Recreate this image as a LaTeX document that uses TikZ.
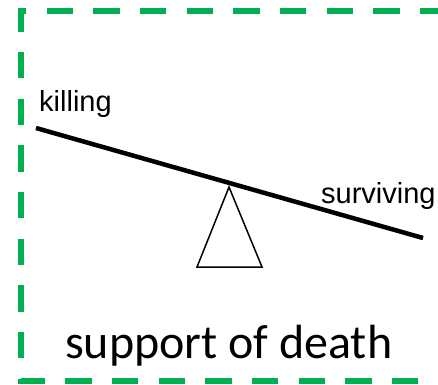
\documentclass[tikz,border=0pt]{standalone}
\usepackage{fontspec}
\setmainfont{Liberation Sans}
\newfontfamily\calibrifont{Carlito}
\definecolor{pptgreen}{HTML}{00B050}
\begin{document}
\begin{tikzpicture}[x=1pt,y=-1pt,
  frame/.style={draw=pptgreen,line width=6pt,dash pattern=on 26.3pt off 20.37pt,dash phase=32.97pt,line join=miter},
  beam/.style={line width=4.5pt,line cap=butt},
  fulcrum/.style={draw=black,line width=1.5pt,fill=white,line join=miter},
  lbl/.style={inner sep=0pt,anchor=base west,font=\fontsize{29}{33}\selectfont},
  title/.style={inner sep=0pt,anchor=base west,font=\calibrifont\fontsize{48}{54}\selectfont}]
\clip (0,0) rectangle (438,384);
\fill[white] (0,0) rectangle (438,384);
% green dashed frame (right side lies outside the picture)
\draw[frame] (460,11) -- (20.5,11) -- (20.5,380.5) -- (460,380.5);
% fulcrum
\coordinate (apex) at (229,187);
\coordinate (bl) at (197,267);
\coordinate (br) at (262,267);
\draw[fulcrum] (apex) -- (br) -- (bl) -- cycle;
% beam
\coordinate (bL) at (36,128);
\coordinate (bR) at (423,238);
\draw[beam] (bL) -- (bR);
% labels
\node[lbl] (killing) at (39,111.7) {killing};
\node[lbl] (surviving) at (321,203) {surviving};
\node[title] (support) at (65,358) {support of death};
\end{tikzpicture}
\end{document}
